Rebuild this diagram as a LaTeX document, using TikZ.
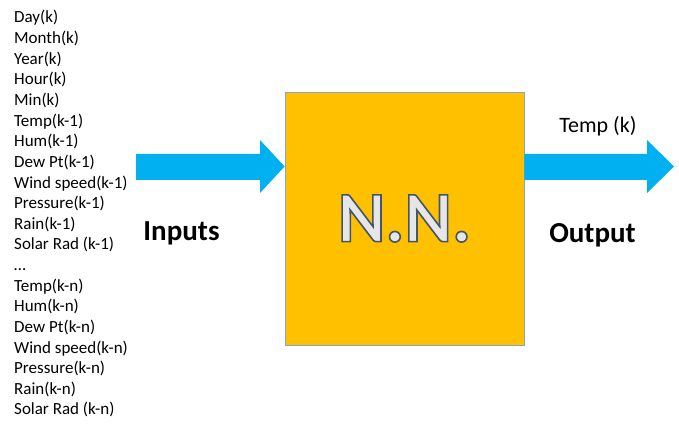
\documentclass[tikz,border=0pt]{standalone}
\usepackage{fontspec}
\setmainfont{Carlito}
\definecolor{arrowblue}{HTML}{00B0F0}
\definecolor{boxorange}{HTML}{FFC000}
\definecolor{boxedge}{HTML}{7EA6D8}
\definecolor{nnfill}{HTML}{E7E6E6}
\tikzset{
  listitem/.style={anchor=base west, inner sep=0pt, font=\fontsize{17}{20}\selectfont},
  biglabel/.style={inner sep=0pt, font=\fontsize{29}{34}\selectfont\bfseries},
  fatarrow/.style={fill=arrowblue, draw=none},
  nnbox/.style={fill=boxorange, draw=boxedge, line width=0.8pt}
}
\newcommand{\outlinedtext}[1]{{\color{nnfill}\special{pdf:code q 2 Tr 1.6 w 0.267 0.329 0.416 RG}#1\special{pdf:code Q}}}
\begin{document}
\begin{tikzpicture}[x=1pt,y=1pt]
\useasboundingbox (0,0) rectangle (679,423);
% list of inputs
\foreach \t [count=\i from 0] in {Day(k),Month(k),Year(k),Hour(k),Min(k),Temp(k-1),Hum(k-1),Dew Pt(k-1),Wind speed(k-1),Pressure(k-1),Rain(k-1),Solar Rad (k-1),\ldots,Temp(k-n),Hum(k-n),Dew Pt(k-n),Wind speed(k-n),Pressure(k-n),Rain(k-n),Solar Rad (k-n)}
  \node[listitem] (in\i) at (14,{400-20.63*\i}) {\t};
% box
\node[nnbox, minimum width=239pt, minimum height=253pt, inner sep=0pt] (nn) at (404.5,204.5) {};
\node[inner sep=0pt, font=\fontsize{72}{80}\selectfont\bfseries] (nntext) at (nn.center) {\outlinedtext{N.N.}};
% arrows
\coordinate (ltip) at (nn.west |- 0,256.5);
\coordinate (rtip) at (674,256.5);
\path[fatarrow] (136,269) -- (260,269) -- (260,283) -- (ltip) -- (260,230) -- (260,243) -- (136,243) -- cycle;
\path[fatarrow] (nn.east |- 0,269) -- (647,269) -- (647,283) -- (rtip) -- (647,230) -- (647,243) -- (nn.east |- 0,243) -- cycle;
% labels
\node[biglabel] (inputs) at (181.5,190) {Inputs};
\node[biglabel] (output) at (592.5,188) {Output};
\node[inner sep=0pt, font=\fontsize{22}{26}\selectfont] (tempk) at (598,297) {Temp (k)};
\end{tikzpicture}
\end{document}
